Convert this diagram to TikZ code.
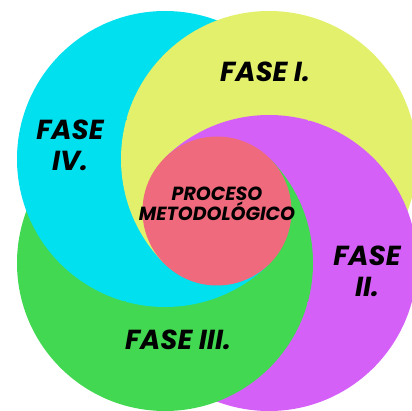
\documentclass[tikz,border=0pt]{standalone}
\usepackage{fontspec}
\setmainfont{Poppins}
\definecolor{amarillo}{RGB}{226,240,108}
\definecolor{celeste}{RGB}{0,224,238}
\definecolor{verde}{RGB}{66,216,82}
\definecolor{morado}{RGB}{212,96,248}
\definecolor{rosa}{RGB}{238,106,124}

\begin{document}
\begin{tikzpicture}[x=1pt,y=-1pt]
\useasboundingbox (0,0) rectangle (412,411);
\coordinate (c) at (217,211);
\coordinate (f1) at (269,159);
\coordinate (f2) at (269,263);
\coordinate (f3) at (165,263);
\coordinate (f4) at (165,159);

% arriba
\begin{scope}
\clip (c) -- ++(-600,-600) -- ++(1200,0) -- cycle;
\fill[verde] (f3) circle (148pt);
\fill[celeste] (f4) circle (148pt);
\fill[amarillo] (f1) circle (148pt);
\fill[morado] (f2) circle (148pt);
\end{scope}

% derecha
\begin{scope}
\clip (c) -- ++(600,-600) -- ++(0,1200) -- cycle;
\fill[celeste] (f4) circle (148pt);
\fill[amarillo] (f1) circle (148pt);
\fill[morado] (f2) circle (148pt);
\fill[verde] (f3) circle (148pt);
\end{scope}

% abajo
\begin{scope}
\clip (c) -- ++(600,600) -- ++(-1200,0) -- cycle;
\fill[amarillo] (f1) circle (148pt);
\fill[morado] (f2) circle (148pt);
\fill[verde] (f3) circle (148pt);
\fill[celeste] (f4) circle (148pt);
\end{scope}

% izquierda
\begin{scope}
\clip (c) -- ++(-600,600) -- ++(0,-1200) -- cycle;
\fill[morado] (f2) circle (148pt);
\fill[verde] (f3) circle (148pt);
\fill[celeste] (f4) circle (148pt);
\fill[amarillo] (f1) circle (148pt);
\end{scope}

% costuras en las diagonales
\begin{scope}[line width=2.2pt]
\draw[morado] (266.5,161.5) -- (307.8,120.2);
\draw[amarillo] (307.8,120.2) -- (373.6,54.4);
\draw[amarillo] (167.5,161.5) -- (126.2,120.2);
\draw[celeste] (126.2,120.2) -- (60.4,54.4);
\draw[celeste] (167.5,260.5) -- (126.2,301.8);
\draw[verde] (126.2,301.8) -- (60.4,367.6);
\draw[verde] (266.5,260.5) -- (307.8,301.8);
\draw[morado] (307.8,301.8) -- (373.6,367.6);
\end{scope}

\node[circle, fill=rosa, inner sep=0, minimum size=149pt] (proceso) at (c) {};

\begin{scope}[every node/.style={inner sep=0, align=center, font=\bfseries\itshape\fontsize{27.5}{30.7}\selectfont}]
\node (fase1) at (265,72) {FASE I.};
\node (fase2) at (367,271) {FASE\\II.};
\node (fase3) at (178,340) {FASE III.};
\node (fase4) at (70,145) {FASE\\IV.};
\node[font=\bfseries\itshape\fontsize{19}{20}\selectfont] (metodo) at (217,204) {PROCESO\\METODOLÓGICO};
\end{scope}

\end{tikzpicture}
\end{document}
